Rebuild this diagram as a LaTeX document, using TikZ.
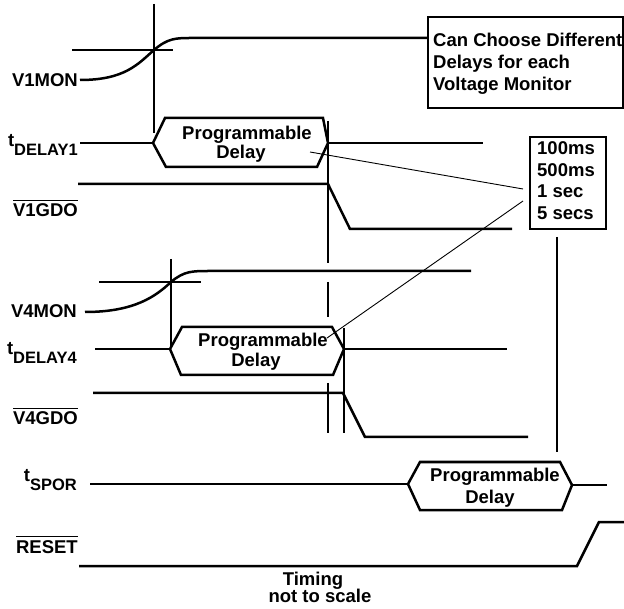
\documentclass[tikz,border=0pt]{standalone}
\usepackage{fontspec}
\setmainfont{Liberation Sans}
\newcommand\ovbar[1]{\vbox{\hrule height 1.5pt\kern 2.6pt\hbox{#1}}}
\newcommand\tsub[1]{t\raisebox{-9pt}{\fontsize{16.5}{16.5}\selectfont #1}}
\begin{document}
\begin{tikzpicture}[x=1pt,y=-1pt,
  font=\fontsize{18.5}{21}\selectfont\bfseries,
  sig/.style={line width=2.5pt},
  guide/.style={line width=1.6pt},
  leader/.style={line width=0.9pt},
  lab/.style={anchor=base east, inner sep=0pt},
  txt/.style={anchor=base, inner sep=0pt},
  txtw/.style={anchor=base west, inner sep=0pt},
  boxed/.style={draw, line width=2.2pt, anchor=north west, inner sep=0pt}]
\useasboundingbox (0,0) rectangle (624,609);

% ---- V1MON ----
\node[lab] (l1) at (78,87) {V1MON};
\node[boxed, minimum width=195pt, minimum height=91pt] (b1) at (427,16) {};
\draw[sig] (80,80) .. controls (125,80) and (138,64) .. (154,50)
  .. controls (168,38) and (176,38) .. (192,38) -- (b1.west |- 0,38);
\node[txtw] (b1a) at (433,47) {Can Choose Different};
\node[txtw] (b1b) at (433,69) {Delays for each};
\node[txtw] (b1c) at (433,91) {Voltage Monitor};
\draw[guide] (154,4) -- (154,133);
\draw[guide] (72,50) -- (173,50);

% ---- tDELAY1 ----
\node[lab] (l2) at (78,147) {\tsub{DELAY1}};
\draw[sig] (80,143) -- (153,143);
\draw[sig] (153,143) -- (165,118) -- (323,118) -- (328,143) -- (317,167) -- (166,167) -- cycle;
\draw[sig] (328,143) -- (483,143);
\node[txt] (h1a) at (247,140) {Programmable};
\node[txt] (h1b) at (241,159) {Delay};

% ---- V1GDO ----
\node[lab] (l3) at (78,217) {\ovbar{V1GDO}};
\draw[sig] (78,184) -- (328,184) -- (350,229) -- (512,229);
\draw[guide] (328,121) -- (328,263) (328,282) -- (328,317) (328,383) -- (328,433);

% ---- delay options box ----
\node[boxed, minimum width=76pt, minimum height=92pt] (b2) at (529,136) {};
\node[txtw] (o1) at (537,155) {100ms};
\node[txtw] (o2) at (537,177) {500ms};
\node[txtw] (o3) at (537,198) {1 sec};
\node[txtw] (o4) at (537,220) {5 secs};
\draw[leader] (310,152) -- (523,189);
\draw[leader] (523,201) -- (327,338);
\draw[guide] (557,237) -- (557,452);

% ---- V4MON ----
\node[lab] (l4) at (77,318) {V4MON};
\draw[sig] (85,312) .. controls (135,312) and (156,296) .. (171,282)
  .. controls (184,271) and (192,271) .. (210,271) -- (471,271);
\draw[guide] (171,259) -- (171,348);
\draw[guide] (99,282) -- (201,282);

% ---- tDELAY4 ----
\node[lab] (l5) at (77,355) {\tsub{DELAY4}};
\draw[sig] (95,349) -- (170,349);
\draw[sig] (170,349) -- (182,327) -- (332,327) -- (344,349) -- (333,375) -- (181,375) -- cycle;
\draw[sig] (344,349) -- (507,349);
\node[txt] (h2a) at (263,347) {Programmable};
\node[txt] (h2b) at (256,367) {Delay};
\draw[guide] (344,328) -- (344,433);

% ---- V4GDO ----
\node[lab] (l6) at (78,425) {\ovbar{V4GDO}};
\draw[sig] (93,393) -- (343,393) -- (365,437) -- (528,437);

% ---- tSPOR ----
\node[lab] (l7) at (77,482) {\tsub{SPOR}};
\draw[sig] (90,484) -- (408,484);
\draw[sig] (408,484) -- (420,462) -- (560,462) -- (572,485) -- (562,510) -- (420,510) -- cycle;
\draw[sig] (572,485) -- (607,485);
\node[txt] (h3a) at (495,482) {Programmable};
\node[txt] (h3b) at (490,503) {Delay};

% ---- RESET ----
\node[lab] (l8) at (78,553) {\ovbar{RESET}};
\draw[sig] (79,566) -- (577,566) -- (599,522) -- (624,522);

% ---- note ----
\node[txt] (n1) at (313,585) {Timing};
\node[txt] (n2) at (320,602) {not to scale};
\end{tikzpicture}
\end{document}
